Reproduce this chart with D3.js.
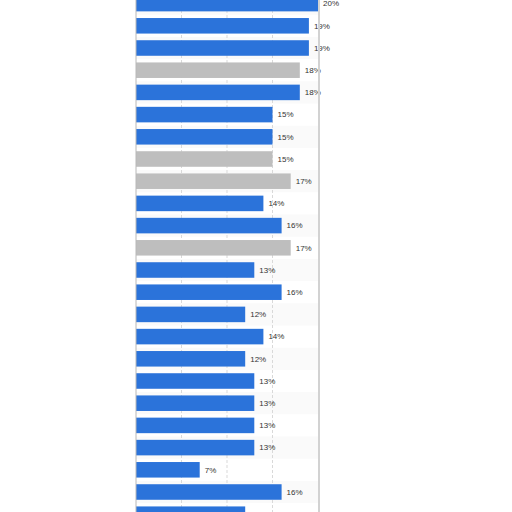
<!DOCTYPE html>
<html>
<head>
<meta charset="utf-8">
<script src="https://cdn.jsdelivr.net/npm/d3@7"></script>
<style>
  body { margin: 0; background: #fff; }
</style>
</head>
<body>
<div id="chart"></div>
<script>
// data (row labels are not visible in the reference)
const rows = d3.range(1, 25).map(i => "row" + i);
const shares = [20, 19, 19, 18, 18, 15, 15, 15, 17, 14, 16, 17, 13, 16, 12, 14, 12, 13, 13, 13, 13, 7, 16, 12];
const greyRows = ["row4", "row8", "row9", "row12"];
const gridTicks = [5, 10, 15];

const W = 512, H = 512;
const plotLeft = 136, plotRight = 318;
const rowStep = 22.2, plotTop = -7.5;

const svg = d3.select("#chart")
  .append("svg")
    .attr("width", W)
    .attr("height", H);

const x = d3.scaleLinear()
  .domain([0, 20])
  .range([plotLeft, plotRight]);

const y = d3.scaleBand()
  .domain(rows)
  .range([plotTop, plotTop + rows.length * rowStep])
  .paddingInner(0.3)
  .paddingOuter(0.15);

// alternating row stripes
svg.append("g")
  .selectAll("rect")
  .data(rows.filter((d, i) => i % 2 === 0))
  .join("rect")
    .attr("x", plotLeft)
    .attr("width", plotRight - plotLeft)
    .attr("y", d => y(d) - y.step() * 0.15)
    .attr("height", y.step())
    .attr("fill", "#fafafa");

// dashed gridlines
svg.append("g")
  .selectAll("line")
  .data(gridTicks)
  .join("line")
    .attr("x1", d => x(d))
    .attr("x2", d => x(d))
    .attr("y1", 0)
    .attr("y2", H)
    .attr("stroke", "#d9d9d9")
    .attr("stroke-width", 1)
    .style("stroke-dasharray", "3, 2");

// bars
svg.append("g")
  .selectAll("rect")
  .data(rows)
  .join("rect")
    .attr("x", x(0))
    .attr("y", d => y(d))
    .attr("height", y.bandwidth())
    .attr("width", (d, i) => x(shares[i]) - x(0))
    .attr("fill", d => greyRows.includes(d) ? "#bebebe" : "#2b73da");

// value labels
svg.append("g")
  .selectAll("text")
  .data(rows)
  .join("text")
    .attr("x", (d, i) => x(shares[i]) + 5)
    .attr("y", d => y(d) + y.bandwidth() / 2)
    .attr("dy", "0.35em")
    .style("font-family", "'Liberation Sans', Arial, sans-serif")
    .style("font-size", "8px")
    .attr("fill", "#333")
    .text((d, i) => shares[i] + "%");

// left axis line and right frame
svg.append("line")
  .attr("x1", plotLeft).attr("x2", plotLeft)
  .attr("y1", 0).attr("y2", H)
  .attr("stroke", "#b8b8b8")
  .attr("stroke-width", 1);

svg.append("line")
  .attr("x1", plotRight + 1).attr("x2", plotRight + 1)
  .attr("y1", 0).attr("y2", H)
  .attr("stroke", "#d2d2d2")
  .attr("stroke-width", 2);
</script>
</body>
</html>
